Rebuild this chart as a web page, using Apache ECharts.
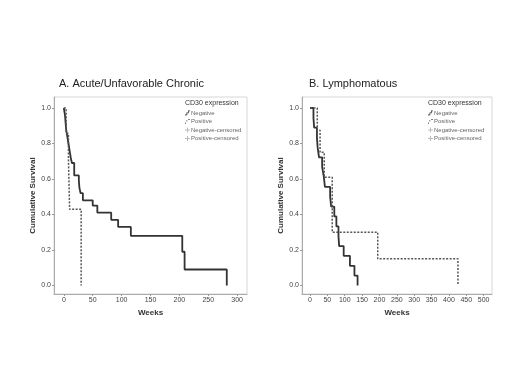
<!DOCTYPE html>
<html><head><meta charset="utf-8">
<script src="https://cdn.jsdelivr.net/npm/echarts@6/dist/echarts.min.js"></script>
<style>html,body{margin:0;padding:0;background:#fff}#c{width:520px;height:390px}</style>
</head><body><div id="c"></div>
<script>
// Panel titles and labels
const titleA = "A. Acute/Unfavorable Chronic";
const titleB = "B. Lymphomatous";
const legendTitle = "CD30 expression";
const legendNames = ["Negative", "Positive", "Negative-censored", "Positive-censored"];
const xTicksA = [0, 50, 100, 150, 200, 250, 300];
const xTicksB = [0, 50, 100, 150, 200, 250, 300, 350, 400, 450, 500];
const yTicks = [0, 0.2, 0.4, 0.6, 0.8, 1.0];

// Kaplan-Meier steps: [week, survival after event]
const negA = [[0,1],[2,0.96],[3,0.92],[4,0.88],[6,0.84],[8,0.80],[10,0.76],[12,0.72],[14,0.69],[18,0.62],[26,0.59],[27,0.55],[29,0.52],[33,0.48],[50,0.45],[58,0.41],[82,0.37],[94,0.33],[116,0.28],[205,0.19],[209,0.09],[282,0]];
const posA = [[0,1],[4,0.857],[8,0.714],[10,0.429],[30,0]];
const negB = [[0,1],[10,0.944],[12,0.889],[20,0.833],[22,0.778],[26,0.722],[35,0.667],[40,0.611],[43,0.556],[58,0.5],[61,0.444],[70,0.389],[76,0.333],[82,0.278],[84,0.222],[97,0.167],[115,0.111],[128,0.056],[137,0]];
const posB = [[0,1],[21,0.875],[29,0.75],[41,0.61],[64,0.30],[195,0.15],[426,0]];

const chart = echarts.init(document.getElementById('c'));
const FONT = '"Liberation Sans", Arial, sans-serif';
const plus = 'path://M4,0L6,0L6,4L10,4L10,6L6,6L6,10L4,10L4,6L0,6L0,4L4,4Z';
const stepIcon = 'path://M0,10L0,8L3,8L3,4L6,4L6,0L10,0L10,1.5L7.5,1.5L7.5,5.5L4.5,5.5L4.5,9.5L1.5,9.5L1.5,10Z';
const dashIcon = 'path://M0,10L1.5,10L1.5,7L0,7ZM3,5L4.5,5L4.5,2L3,2ZM6,1.5L10,1.5L10,0L6,0Z';

function xAx(idx, min, max, ticks) {
  return {
    gridIndex: idx, type: 'value', min: min, max: max,
    name: 'Weeks', nameLocation: 'middle', nameGap: 14,
    nameTextStyle: {fontFamily: FONT, fontSize: 8, fontWeight: 'bold', color: '#333'},
    axisLine: {show: true, onZero: false, lineStyle: {color: '#aaa', width: 1}},
    axisTick: {show: true, length: 2, customValues: ticks, lineStyle: {color: '#999'}},
    axisLabel: {customValues: ticks, fontFamily: FONT, fontSize: 7, color: '#444', margin: 3},
    splitLine: {show: false}
  };
}
function yAx(idx) {
  return {
    gridIndex: idx, type: 'value', min: -0.048, max: 1.062,
    name: 'Cumulative Survival', nameLocation: 'middle', nameGap: 17,
    nameTextStyle: {fontFamily: FONT, fontSize: 8, fontWeight: 'bold', color: '#333'},
    axisLine: {show: true, onZero: false, lineStyle: {color: '#aaa', width: 1}},
    axisTick: {show: true, length: 2, customValues: yTicks, lineStyle: {color: '#999'}},
    axisLabel: {customValues: yTicks, fontFamily: FONT, fontSize: 7, color: '#444', margin: 3,
      formatter: v => v.toFixed(1)},
    splitLine: {show: false}
  };
}
function lineS(name, data, idx, dashed) {
  return {
    name: name, type: 'line', step: 'end', xAxisIndex: idx, yAxisIndex: idx,
    data: data, symbol: 'none', showSymbol: false, animation: false,
    lineStyle: {color: dashed ? '#555' : '#333', width: dashed ? 1.5 : 1.8, type: dashed ? [2, 1.5] : 'solid'},
    itemStyle: {color: dashed ? '#555' : '#333'}
  };
}
function censS(name, idx) {
  return {name: name, type: 'scatter', xAxisIndex: idx, yAxisIndex: idx, data: [],
    symbol: plus, symbolSize: 5, itemStyle: {color: '#aaa'}};
}
function leg(left) {
  return {
    left: left, top: 110, orient: 'vertical', itemWidth: 5, itemHeight: 5, itemGap: 2.5,
    data: [
      {name: legendNames[0], icon: stepIcon},
      {name: legendNames[1], icon: dashIcon},
      {name: legendNames[2], icon: plus},
      {name: legendNames[3], icon: plus}
    ],
    selectedMode: false,
    textStyle: {fontFamily: FONT, fontSize: 6, color: '#666', padding: [0,0,0,-4]},
    padding: 0
  };
}

chart.setOption({
  animation: false,
  grid: [
    {left: 54, top: 97, width: 193, height: 197, show: true, borderColor: '#d6d6d6', borderWidth: 1},
    {left: 302, top: 97, width: 190, height: 197, show: true, borderColor: '#d6d6d6', borderWidth: 1}
  ],
  xAxis: [xAx(0, -17, 317, xTicksA), xAx(1, -23, 524, xTicksB)],
  yAxis: [yAx(0), yAx(1)],
  legend: [leg(185), leg(428)],
  graphic: [
    {type: 'text', left: 59, top: 78, style: {text: titleA, font: '11px ' + FONT, fill: '#222'}},
    {type: 'text', left: 309, top: 78, style: {text: titleB, font: '11px ' + FONT, fill: '#222'}},
    {type: 'text', left: 185, top: 100, style: {text: legendTitle, font: '7px ' + FONT, fill: '#333'}},
    {type: 'text', left: 428, top: 100, style: {text: legendTitle, font: '7px ' + FONT, fill: '#333'}}
  ],
  series: [
    lineS('Negative', negA, 0, false), lineS('Positive', posA, 0, true),
    censS('Negative-censored', 0), censS('Positive-censored', 0),
    lineS('Negative', negB, 1, false), lineS('Positive', posB, 1, true),
    censS('Negative-censored', 1), censS('Positive-censored', 1)
  ]
});
</script></body></html>
